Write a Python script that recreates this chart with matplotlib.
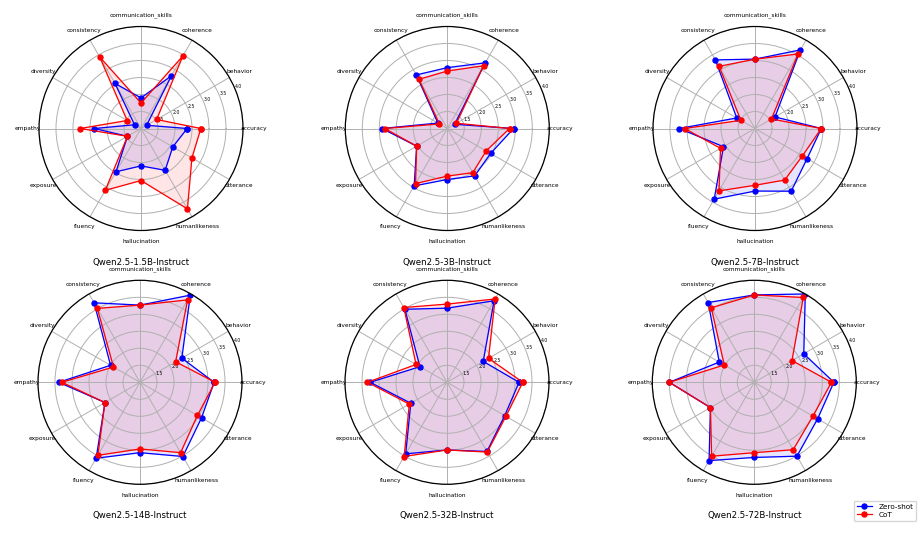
import numpy as np
import matplotlib
matplotlib.use("Agg")
import matplotlib.pyplot as plt

categories = ["accuracy", "behavior", "coherence", "communication_skills", "consistency",
              "diversity", "empathy", "exposure", "fluency", "hallucination",
              "humanlikeness", "utterance"]

models = ["Qwen2.5-1.5B-Instruct", "Qwen2.5-3B-Instruct", "Qwen2.5-7B-Instruct",
          "Qwen2.5-14B-Instruct", "Qwen2.5-32B-Instruct", "Qwen2.5-72B-Instruct"]

zero_shot_1_5b = [2.36, 1.19, 2.79, 1.90, 2.53, 1.22, 2.37, 1.46, 2.47, 2.10, 2.42, 2.08]
cot_1_5b       = [2.76, 1.53, 3.46, 1.75, 3.43, 1.47, 2.79, 1.46, 3.10, 2.53, 3.73, 2.73]
zero_shot_3b   = [2.95, 1.25, 3.23, 2.79, 2.82, 1.32, 2.92, 2.04, 2.95, 2.50, 2.61, 2.47]
cot_3b         = [2.83, 1.31, 3.13, 2.69, 2.67, 1.27, 2.84, 2.04, 2.87, 2.40, 2.50, 2.32]
zero_shot_7b   = [2.95, 1.68, 3.67, 3.04, 3.33, 1.62, 3.23, 2.07, 3.40, 2.84, 3.13, 2.77]
cot_7b         = [2.95, 1.56, 3.53, 3.04, 3.11, 1.48, 3.07, 2.17, 3.12, 2.67, 2.75, 2.61]
zero_shot_14b  = [3.18, 2.42, 3.96, 3.27, 3.70, 2.00, 3.39, 2.19, 3.58, 3.07, 3.52, 3.09]
cot_14b        = [3.21, 2.21, 3.80, 3.27, 3.51, 1.90, 3.30, 2.19, 3.48, 2.96, 3.39, 2.95]
zero_shot_32b  = [3.12, 2.23, 3.77, 3.18, 3.48, 1.92, 3.26, 2.23, 3.43, 2.99, 3.35, 2.96]
cot_32b        = [3.23, 2.41, 3.83, 3.30, 3.54, 2.05, 3.34, 2.28, 3.52, 2.99, 3.37, 3.00]
zero_shot_72b  = [3.34, 2.68, 4.00, 3.57, 3.71, 2.19, 3.50, 2.49, 3.66, 3.21, 3.51, 3.15]
cot_72b        = [3.27, 2.28, 3.88, 3.57, 3.53, 2.02, 3.50, 2.49, 3.51, 3.07, 3.29, 2.99]

zero_shot = [zero_shot_1_5b, zero_shot_3b, zero_shot_7b, zero_shot_14b, zero_shot_32b, zero_shot_72b]
cot = [cot_1_5b, cot_3b, cot_7b, cot_14b, cot_32b, cot_72b]

r_ticks = [1.5, 2.0, 2.5, 3.0, 3.5, 4.0]
r_tick_labels = ["1.5", "2.0", "2.5", "3.0", "3.5", "4.0"]

W, H = 923, 543
fig = plt.figure(figsize=(W / 100, H / 100), dpi=100)

centers = [(141, 128.5), (447.3, 128.5), (755, 128.5),
           (140, 382.3), (447, 382.3), (754.3, 382.3)]
R = 102

n = len(categories)
angles = np.linspace(0, 2 * np.pi, n, endpoint=False)
angles_closed = np.concatenate([angles, angles[:1]])

for i, (cx, cy) in enumerate(centers):
    ax = fig.add_axes([(cx - R) / W, (H - cy - R) / H, 2 * R / W, 2 * R / H], projection="polar")
    z = list(zero_shot[i]) + [zero_shot[i][0]]
    c = list(cot[i]) + [cot[i][0]]
    ax.plot(angles_closed, z, color="blue", marker="o", markersize=3.6, linewidth=0.9, label="Zero-shot")
    ax.fill(angles_closed, z, color="blue", alpha=0.1)
    ax.plot(angles_closed, c, color="red", marker="o", markersize=3.6, linewidth=0.9, label="CoT")
    ax.fill(angles_closed, c, color="red", alpha=0.1)
    ax.set_ylim(1, 4)
    ax.set_xticks(angles)
    ax.set_xticklabels(categories, fontsize=4.2)
    ax.tick_params(axis="x", pad=-2.5)
    ax.set_yticks(r_ticks)
    ax.set_yticklabels(r_tick_labels, fontsize=3.3)
    ax.grid(True, color="#b0b0b0", linewidth=0.7)
    ax.spines["polar"].set_linewidth(0.9)
    ax.text(0.5, -0.155, models[i], transform=ax.transAxes, ha="center", va="center", fontsize=6.2)
    if i == 5:
        handles, labels = ax.get_legend_handles_labels()

fig.legend(handles, labels, loc="upper left", bbox_to_anchor=(850 / W, 1 - 497 / H),
           fontsize=5.2, frameon=True, borderpad=0.4, handlelength=2.2, labelspacing=0.3)

fig.savefig("out.png", dpi=100)
